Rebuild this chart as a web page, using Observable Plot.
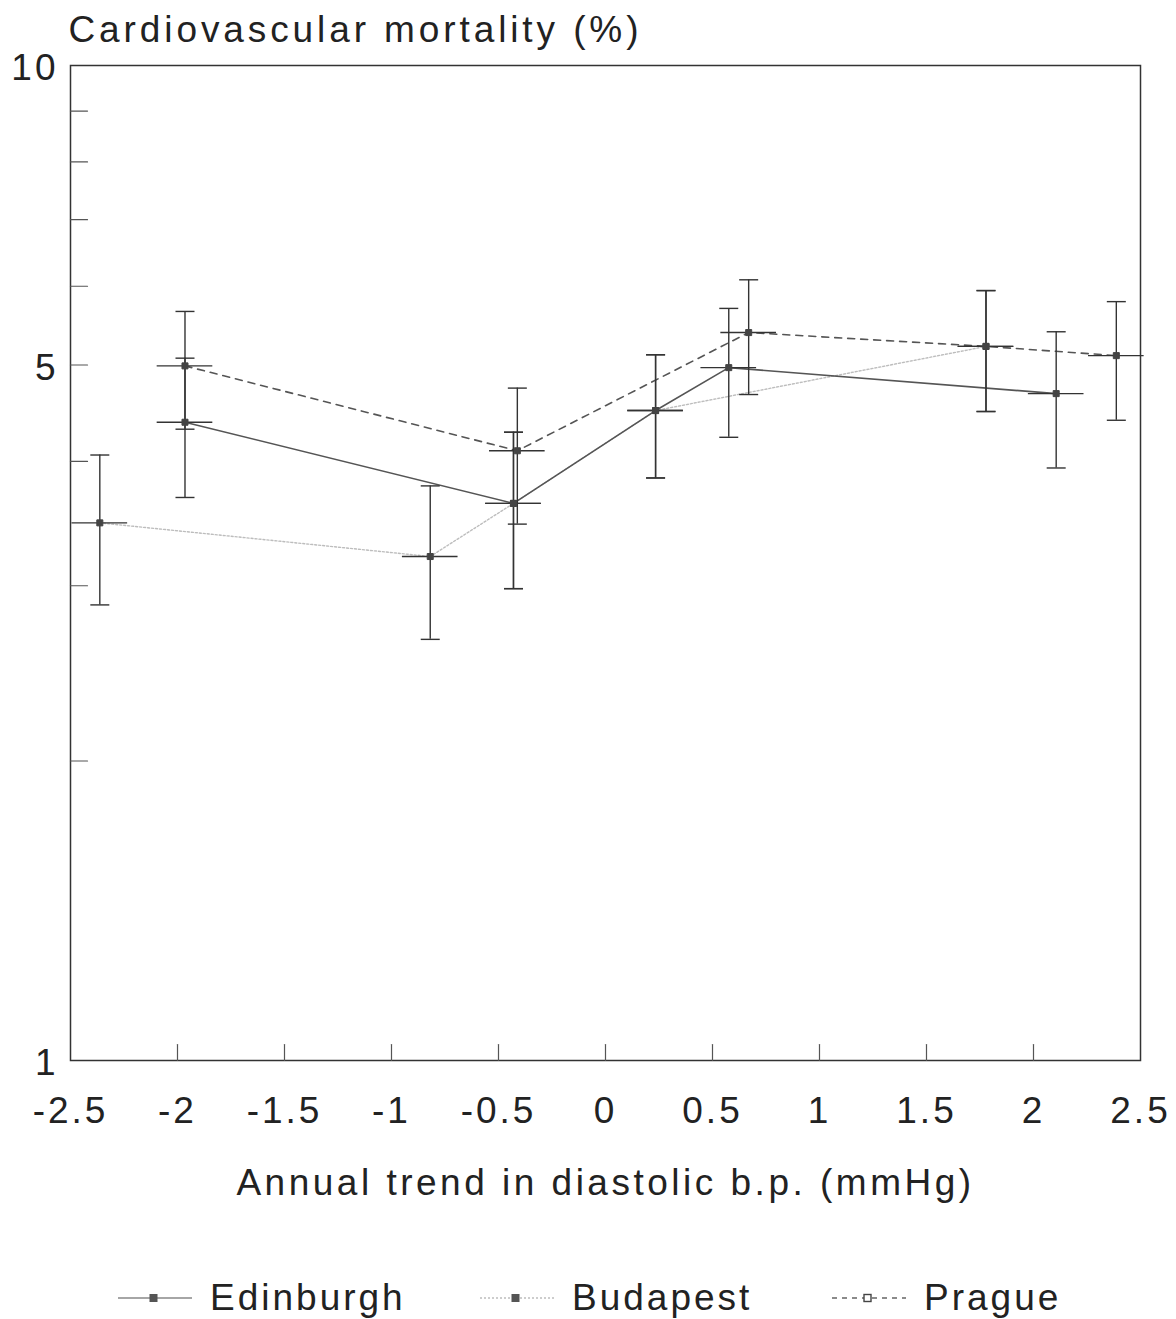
<!DOCTYPE html>
<html>
<head>
<meta charset="utf-8">
<script src="https://cdn.jsdelivr.net/npm/d3@7"></script>
<script src="https://cdn.jsdelivr.net/npm/@observablehq/plot@0.6"></script>
<style>
  html, body { margin: 0; padding: 0; background: #fff; }
  #wrap { width: 1176px; position: relative; font-family: "Liberation Sans", Arial, sans-serif; color: #222; }
  .chart text { letter-spacing: 3px; }
  .chart [aria-description="ytitle"] text { letter-spacing: 3.9px; }
  .chart [aria-description="xtitle"] text { letter-spacing: 3.5px; }
  #legend { position: relative; width: 1176px; height: 104px; }
  .item { position: absolute; top: 64px; display: flex; align-items: center; }
  .item svg { display: block; margin-right: 18px; }
  .item span { font-size: 37px; letter-spacing: 3px; line-height: 1; }
</style>
</head>
<body>
<div id="wrap"><div id="chart"></div><div id="legend"></div></div>
<script>
// ---- data ----
const cities = ["Edinburgh", "Budapest", "Prague"];

const edinX   = [-1.965, -0.430, 0.234, 0.576, 2.106];
const edinY   = [4.38, 3.63, 4.50, 4.97, 4.68];
const edinLo  = [3.68, 2.98, 3.85, 4.23, 3.94];
const edinHi  = [5.08, 4.28, 5.12, 5.70, 5.40];
const edinXE  = [0.13, 0.13, 0.13, 0.13, 0.13];

const budX    = [-2.363, -0.819, -0.430, 0.234, 1.778];
const budY    = [3.47, 3.21, 3.63, 4.50, 5.22];
const budLo   = [2.87, 2.65, 2.98, 3.85, 4.49];
const budHi   = [4.06, 3.78, 4.28, 5.12, 5.94];
const budXE   = [0.13, 0.13, 0.13, 0.13, 0.13];

const pragX   = [-1.965, -0.412, 0.669, 1.778, 2.387];
const pragY   = [4.99, 4.10, 5.39, 5.22, 5.11];
const pragLo  = [4.31, 3.46, 4.67, 4.49, 4.40];
const pragHi  = [5.66, 4.74, 6.09, 5.94, 5.79];
const pragXE  = [0.13, 0.13, 0.13, 0.13, 0.13];

const xTickLabels = [-2.5, -2, -1.5, -1, -0.5, 0, 0.5, 1, 1.5, 2, 2.5];
const xInnerTicks = [-2, -1.5, -1, -0.5, 0, 0.5, 1, 1.5, 2];
const yTickLabels = [1, 5, 10];
const yInnerTicks = [2, 3, 4, 5, 6, 7, 8, 9];

const yTitle = "Cardiovascular mortality (%)";
const xTitle = "Annual trend in diastolic b.p. (mmHg)";

// ---- build table ----
function build(city, X, Y, Lo, Hi, XE) {
  return X.map((x, i) => ({city, x, y: Y[i], lo: Lo[i], hi: Hi[i], xlo: x - XE[i], xhi: x + XE[i]}));
}
const edin = build("Edinburgh", edinX, edinY, edinLo, edinHi, edinXE);
const bud  = build("Budapest", budX, budY, budLo, budHi, budXE);
const prag = build("Prague", pragX, pragY, pragLo, pragHi, pragXE);
const all = [...bud, ...edin, ...prag];

const styles = {
  Edinburgh: {stroke: "#555", strokeWidth: 1.6, strokeDasharray: null},
  Budapest:  {stroke: "#bdbdbd", strokeWidth: 1.4, strokeDasharray: "2,2"},
  Prague:    {stroke: "#555", strokeWidth: 1.6, strokeDasharray: "7,6"}
};

const tickShape = {draw(context, l) { context.moveTo(0, 0); context.lineTo(0, -l); }};
const capSymbol = {draw(context, size) { const w = Math.sqrt(size / Math.PI); context.moveTo(-w, 0); context.lineTo(w, 0); }};

const lineMark = (data, city) => Plot.line(data, {x: "x", y: "y", ...styles[city]});

const chart = Plot.plot({
  className: "chart",
  width: 1176,
  height: 1215,
  marginLeft: 70,
  marginRight: 36,
  marginTop: 65,
  marginBottom: 155,
  x: {domain: [-2.5, 2.5]},
  y: {type: "log", domain: [1, 10]},
  style: {fontFamily: "'Liberation Sans', Arial, sans-serif", fontSize: "37px", background: "#fff", color: "#222"},
  marks: [
    Plot.frame({stroke: "#333", strokeWidth: 1.5}),
    Plot.vector(yInnerTicks, {y: d => d, frameAnchor: "left", rotate: 90, length: 17, anchor: "start", shape: tickShape, stroke: "#555", strokeWidth: 1.2}),
    Plot.vector(xInnerTicks, {x: d => d, frameAnchor: "bottom", rotate: 0, length: 16, anchor: "start", shape: tickShape, stroke: "#555", strokeWidth: 1.2}),
    Plot.axisX(xTickLabels, {tickSize: 0, tickPadding: 36, tickFormat: d => String(d), label: null, fill: "#222"}),
    Plot.axisY(yTickLabels, {tickSize: 0, tickPadding: 12, tickFormat: d => String(d), label: null, fill: "#222", dy: 3}),
    Plot.text([yTitle], {text: d => d, frameAnchor: "top-left", textAnchor: "start", lineAnchor: "middle", dx: -2, dy: -35, fill: "#222", ariaDescription: "ytitle"}),
    Plot.text([xTitle], {text: d => d, frameAnchor: "bottom", lineAnchor: "middle", dy: 123, fill: "#222", ariaDescription: "xtitle"}),
    lineMark(bud, "Budapest"),
    lineMark(edin, "Edinburgh"),
    lineMark(prag, "Prague"),
    Plot.ruleX(all, {x: "x", y1: "lo", y2: "hi", stroke: "#333", strokeWidth: 1.4}),
    Plot.ruleY(all, {y: "y", x1: "xlo", x2: "xhi", stroke: "#333", strokeWidth: 1.4}),
    Plot.dot(all, {x: "x", y: "lo", symbol: capSymbol, r: 9.5, stroke: "#333", strokeWidth: 1.4, fill: "none"}),
    Plot.dot(all, {x: "x", y: "hi", symbol: capSymbol, r: 9.5, stroke: "#333", strokeWidth: 1.4, fill: "none"}),
    Plot.dot(all, {x: "x", y: "y", symbol: "square", r: 3.4, fill: "#444", stroke: "#444", strokeWidth: 1})
  ]
});
document.getElementById("chart").appendChild(chart);

// ---- legend ----
const legendPos = {Edinburgh: 118, Budapest: 480, Prague: 832};
const legendLine = {Edinburgh: "#888", Budapest: "#bdbdbd", Prague: "#666"};
const legendDash = {Edinburgh: null, Budapest: "2,2", Prague: "5,5"};
const legendMarker = {Edinburgh: "filled", Budapest: "filled", Prague: "open"};
const legend = document.getElementById("legend");
for (const c of cities) {
  const item = document.createElement("div");
  item.className = "item";
  item.style.left = legendPos[c] + "px";
  const sq = legendMarker[c] === "open"
    ? `<rect x="32" y="6.5" width="7" height="7" fill="#fff" stroke="#444" stroke-width="1.4"/>`
    : `<rect x="32" y="6.5" width="7" height="7" fill="#555" stroke="#555" stroke-width="1"/>`;
  const dash = legendDash[c] ? `stroke-dasharray="${legendDash[c]}"` : "";
  item.innerHTML = `<svg width="74" height="20"><line x1="0" x2="74" y1="10" y2="10" stroke="${legendLine[c]}" stroke-width="1.5" ${dash}/>${sq}</svg><span>${c}</span>`;
  legend.appendChild(item);
}
</script>
</body>
</html>
